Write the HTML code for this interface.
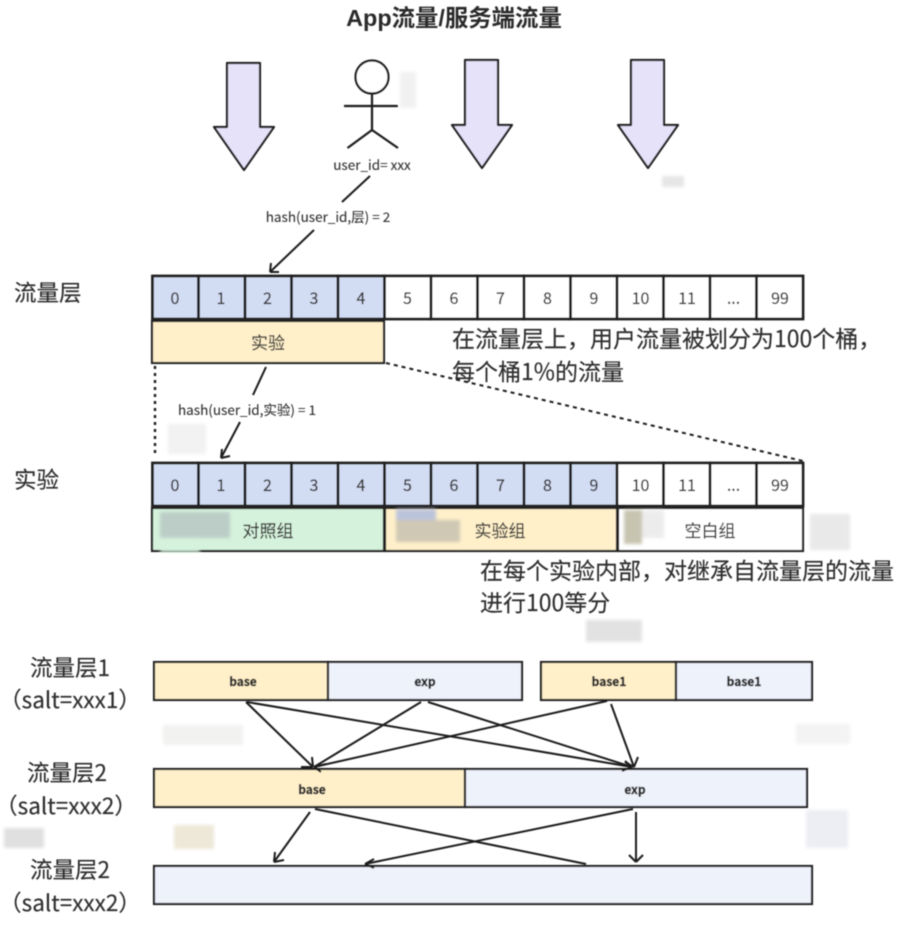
<!DOCTYPE html>
<html>
<head>
<meta charset="utf-8">
<style>
html,body{margin:0;padding:0;background:#fff;width:898px;height:930px;overflow:hidden}
svg{display:block}
text{font-family:"Noto Sans CJK SC",sans-serif;fill:#333}
.n{font-size:16px;text-anchor:middle;fill:#333;stroke:#333;stroke-width:.2}
.c{font-size:17px;text-anchor:middle;fill:#333;stroke:#333;stroke-width:.15}
.t{font-size:23px;fill:#2e2e2e;stroke:#2e2e2e;stroke-width:.15}
.s{font-size:13.5px;text-anchor:middle;fill:#333;stroke:#333;stroke-width:.12}
.b{font-size:12px;font-weight:700;text-anchor:middle;fill:#2a2a2a;stroke:#2a2a2a;stroke-width:.45}
.l{font-size:22.5px;text-anchor:middle;fill:#2e2e2e;stroke:#2e2e2e;stroke-width:.15}
.cell{stroke:#222;stroke-width:2.800}
.box{stroke:#222;stroke-width:2.200}
.ln{stroke:#1a1a1a;stroke-width:2;fill:none}
.big{fill:#e6e2fa;stroke:#222;stroke-width:2.200;stroke-linejoin:round}
</style>
</head>
<body>
<svg width="898" height="930" viewBox="0 0 898 930" xmlns="http://www.w3.org/2000/svg">
<defs>
<filter id="bl"><feGaussianBlur stdDeviation="0.4"/></filter>
<filter id="b2"><feGaussianBlur stdDeviation="1.5"/></filter>
</defs>
<g filter="url(#bl)">
<text x="454" y="26" text-anchor="middle" style="font-size:23.4px;font-weight:700;fill:#2a2a2a;font-family:'Liberation Sans','Noto Sans CJK SC',sans-serif">App流量/服务端流量</text>

<polygon class="big" points="227,63 260,63 260,127 274,127 244,170 214,127 227,127"/>
<polygon class="big" points="465,60 498,60 498,125 512,125 482,168 452,125 465,125"/>
<polygon class="big" points="631,60 664,60 664,125 678,125 648,168 618,125 631,125"/>

<circle cx="372" cy="77" r="16.5" fill="#fff" stroke="#1a1a1a" stroke-width="2.200"/>
<path d="M372 94V130M344 106H398M372 130L347.500 148M372 130L398 148" fill="none" stroke="#1a1a1a" stroke-width="2.200"/>
<text class="s" x="372" y="170">user_id= xxx</text>
<path class="ln" d="M370 176L342 202"/>
<text class="s" x="328" y="222">hash(user_id,层) = 2</text>
<path class="ln" d="M314 230L270 272M270 272L271 263M270 272L279 272"/>

<text class="l" x="14" y="301" style="text-anchor:start">流量层</text>
<text class="l" x="14" y="488" style="text-anchor:start">实验</text>

<!-- row 1 -->
<g>
<rect class="cell" x="152.500" y="276" width="46" height="43" fill="#d2dcf3"/>
<rect class="cell" x="198.500" y="276" width="46.500" height="43" fill="#d2dcf3"/>
<rect class="cell" x="245" y="276" width="46.500" height="43" fill="#d2dcf3"/>
<rect class="cell" x="291.500" y="276" width="46.500" height="43" fill="#d2dcf3"/>
<rect class="cell" x="338" y="276" width="46.500" height="43" fill="#d2dcf3"/>
<rect class="cell" x="384.500" y="276" width="46.500" height="43" fill="#fff"/>
<rect class="cell" x="431" y="276" width="46.500" height="43" fill="#fff"/>
<rect class="cell" x="477.500" y="276" width="46.500" height="43" fill="#fff"/>
<rect class="cell" x="524" y="276" width="46.500" height="43" fill="#fff"/>
<rect class="cell" x="570.500" y="276" width="46.500" height="43" fill="#fff"/>
<rect class="cell" x="617" y="276" width="46.500" height="43" fill="#fff"/>
<rect class="cell" x="663.500" y="276" width="46.500" height="43" fill="#fff"/>
<rect class="cell" x="710" y="276" width="46.500" height="43" fill="#fff"/>
<rect class="cell" x="756.500" y="276" width="46.500" height="43" fill="#fff"/>
</g>
<text class="n" x="175" y="304">0</text><text class="n" x="221" y="304">1</text><text class="n" x="267.500" y="304">2</text><text class="n" x="314" y="304">3</text><text class="n" x="361" y="304">4</text><text class="n" x="407.500" y="304">5</text><text class="n" x="454" y="304">6</text><text class="n" x="500.500" y="304">7</text><text class="n" x="547.500" y="304">8</text><text class="n" x="594" y="304">9</text><text class="n" x="640.500" y="304">10</text><text class="n" x="687" y="304">11</text><text class="n" x="733.500" y="304">...</text><text class="n" x="780" y="304">99</text>

<rect class="box" x="152" y="321" width="232" height="42" fill="#fff0ca"/>
<text class="c" x="268" y="349">实验</text>

<text class="t" x="452" y="347">在流量层上，用户流量被划分为100个桶，</text>
<text class="t" x="452" y="380">每个桶1%的流量</text>

<path d="M386 363L803 461" stroke="#1a1a1a" stroke-width="2" stroke-dasharray="4 4" fill="none"/>
<path d="M155 366V457" stroke="#1a1a1a" stroke-width="2.400" stroke-dasharray="3 4" fill="none"/>

<path class="ln" d="M266 367L253 395"/>
<text class="s" x="247" y="415">hash(user_id,实验) = 1</text>
<path class="ln" d="M240 422L221 458M221 458L222 449M221 458L230 456"/>

<!-- row 2 -->
<g>
<rect class="cell" x="152.500" y="463" width="46" height="43" fill="#d2dcf3"/>
<rect class="cell" x="198.500" y="463" width="46.500" height="43" fill="#d2dcf3"/>
<rect class="cell" x="245" y="463" width="46.500" height="43" fill="#d2dcf3"/>
<rect class="cell" x="291.500" y="463" width="46.500" height="43" fill="#d2dcf3"/>
<rect class="cell" x="338" y="463" width="46.500" height="43" fill="#d2dcf3"/>
<rect class="cell" x="384.500" y="463" width="46.500" height="43" fill="#d2dcf3"/>
<rect class="cell" x="431" y="463" width="46.500" height="43" fill="#d2dcf3"/>
<rect class="cell" x="477.500" y="463" width="46.500" height="43" fill="#d2dcf3"/>
<rect class="cell" x="524" y="463" width="46.500" height="43" fill="#d2dcf3"/>
<rect class="cell" x="570.500" y="463" width="46.500" height="43" fill="#d2dcf3"/>
<rect class="cell" x="617" y="463" width="46.500" height="43" fill="#fff"/>
<rect class="cell" x="663.500" y="463" width="46.500" height="43" fill="#fff"/>
<rect class="cell" x="710" y="463" width="46.500" height="43" fill="#fff"/>
<rect class="cell" x="756.500" y="463" width="46.500" height="43" fill="#fff"/>
</g>
<text class="n" x="175" y="491">0</text><text class="n" x="221" y="491">1</text><text class="n" x="267.500" y="491">2</text><text class="n" x="314" y="491">3</text><text class="n" x="361" y="491">4</text><text class="n" x="407.500" y="491">5</text><text class="n" x="454" y="491">6</text><text class="n" x="500.500" y="491">7</text><text class="n" x="547.500" y="491">8</text><text class="n" x="594" y="491">9</text><text class="n" x="640.500" y="491">10</text><text class="n" x="687" y="491">11</text><text class="n" x="733.500" y="491">...</text><text class="n" x="780" y="491">99</text>

<rect class="box" x="152" y="508" width="232" height="43" fill="#d5f2dc"/>
<rect class="box" x="385" y="508" width="232" height="43" fill="#fff0ca"/>
<rect class="box" x="618" y="508" width="185" height="43" fill="#fff"/>

<!-- blurred patches -->
<g filter="url(#b2)">
<rect x="160" y="512" width="70" height="26" fill="#bccdc8"/>
<rect x="160" y="538" width="40" height="14" fill="#d5f2dc"/>
<rect x="396" y="509" width="40" height="12" fill="#bcc4dc"/>
<rect x="396" y="520" width="64" height="22" fill="#cfc8b4"/>
<rect x="624" y="510" width="18" height="34" fill="#c7c5b0"/>
<rect x="642" y="510" width="22" height="28" fill="#ececec"/>
<rect x="810" y="514" width="40" height="36" fill="#e9e9e9"/>
<rect x="400" y="72" width="16" height="36" fill="#f1f1f1"/>
<rect x="662" y="176" width="22" height="11" fill="#e6e6e6"/>
<rect x="168" y="424" width="38" height="30" fill="#f2f2f2"/>
<rect x="586" y="620" width="56" height="22" fill="#e2e2e2"/>
<rect x="163" y="725" width="80" height="20" fill="#f2f2f0"/>
<rect x="796" y="724" width="54" height="20" fill="#f3f3f3"/>
<rect x="4" y="828" width="40" height="20" fill="#e0e0e0"/>
<rect x="174" y="825" width="40" height="24" fill="#eee8d8"/>
<rect x="806" y="810" width="42" height="38" fill="#eceef3"/>
</g>

<text class="c" x="268" y="537">对照组</text>
<text class="c" x="500" y="537">实验组</text>
<text class="c" x="710" y="537">空白组</text>

<text class="t" x="480" y="579">在每个实验内部，对继承自流量层的流量</text>
<text class="t" x="480" y="611">进行100等分</text>

<!-- lower section -->
<text class="l" x="70" y="676">流量层1</text>
<text class="l" x="70" y="708">（salt=xxx1）</text>
<text class="l" x="67" y="781">流量层2</text>
<text class="l" x="66" y="814">（salt=xxx2）</text>
<text class="l" x="70" y="878">流量层2</text>
<text class="l" x="70" y="911">（salt=xxx2）</text>

<rect class="box" x="154" y="662" width="174" height="38" fill="#fff0ca"/>
<rect class="box" x="328" y="662" width="194" height="38" fill="#eef2fb"/>
<rect class="box" x="541" y="662" width="135" height="38" fill="#fff0ca"/>
<rect class="box" x="676" y="662" width="136" height="38" fill="#eef2fb"/>
<rect class="box" x="154" y="769" width="311" height="38" fill="#fff0ca"/>
<rect class="box" x="465" y="769" width="342" height="38" fill="#eef2fb"/>
<rect class="box" x="154" y="866" width="658" height="38" fill="#eef2fb"/>

<text class="b" x="243" y="686">base</text>
<text class="b" x="425" y="686">exp</text>
<text class="b" x="609" y="686">base1</text>
<text class="b" x="744" y="686">base1</text>
<text class="b" x="312" y="794">base</text>
<text class="b" x="635" y="794">exp</text>

<path class="ln" d="M246 702L313 767M313 767L301 767M313 767L312 757"/>
<path class="ln" d="M247 702L632 767M632 767L622 771M632 767L625 761"/>
<path class="ln" d="M421 702L314 767M314 767L326 764M314 767L321 772"/>
<path class="ln" d="M428 702L632 767"/>
<path class="ln" d="M607 701L314 767"/>
<path class="ln" d="M611 704L634 767M634 767L638 757M634 767L625 762"/>
<path class="ln" d="M310 812L274 862M274 862L284 860M274 862L275 852"/>
<path class="ln" d="M315 809L586 864"/>
<path class="ln" d="M633 809L365 864M365 864L374 859M365 864L374 868"/>
<path class="ln" d="M636 812V862M636 862L629 855M636 862L643 855"/>
</g>
</svg>
</body>
</html>
